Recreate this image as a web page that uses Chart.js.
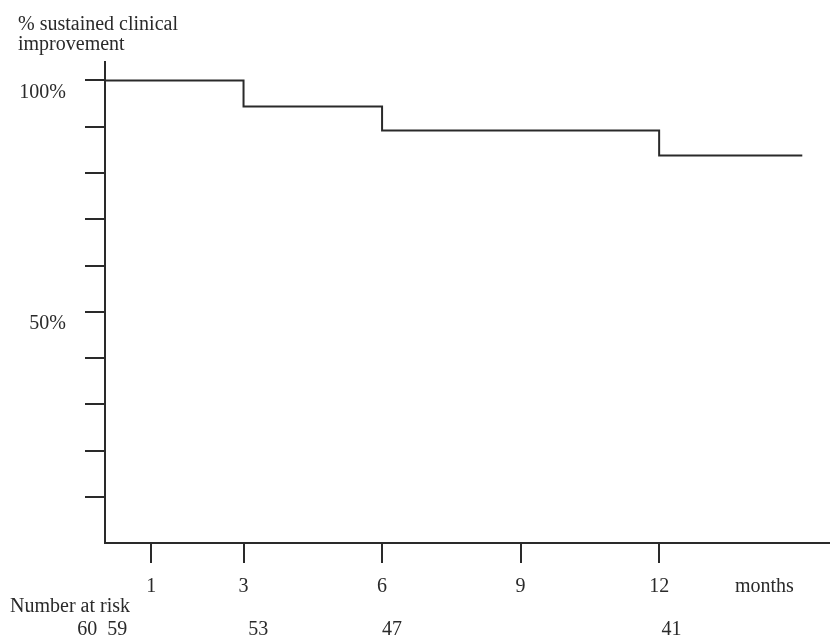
<!DOCTYPE html>
<html>
<head>
<meta charset="utf-8">
<script src="https://cdn.jsdelivr.net/npm/chart.js@4/dist/chart.umd.min.js"></script>
<style>
  html, body { margin: 0; padding: 0; background: #fff; }
  #wrap { width: 830px; height: 640px; }
</style>
</head>
<body>
<div id="wrap"><canvas id="myChart"></canvas></div>
<script>
// curve: months vs % sustained clinical improvement (step function)
const months = [0, 3, 6, 12, 15.1];
const improvement = [100, 94.4, 89.2, 83.8, 83.8];

// axis ticks and labels
const xTicks = [1, 3, 6, 9, 12];
const xTickLabels = ['1', '3', '6', '9', '12'];
const yTicks = [10, 20, 30, 40, 50, 60, 70, 80, 90, 100];
const yLabelValues = [100, 50];
const yLabels = ['100%', '50%'];

// number at risk row
const riskCounts = ['60', '59', '53', '47', '41'];
const riskAt = [-0.6, 0.05, 3.1, 6, 12.05];

const serif = '"Liberation Serif", "DejaVu Serif", serif';
const ink = '#2a2a2a';

const textPlugin = {
  id: 'texts',
  afterDraw(chart) {
    const c = chart.ctx;
    const x = chart.scales.x;
    const y = chart.scales.y;
    c.save();
    c.fillStyle = ink;
    c.font = '20px ' + serif;
    c.textBaseline = 'middle';

    // axis title
    c.textAlign = 'left';
    c.fillText('% sustained clinical', 18, 25);
    c.fillText('improvement', 18, 45);

    // y labels sit a little below their tick
    c.textAlign = 'right';
    yLabelValues.forEach((v, i) => {
      c.fillText(yLabels[i], 66, y.getPixelForValue(v) + 12);
    });

    // x labels
    c.textAlign = 'center';
    xTicks.forEach((v, i) => {
      c.fillText(xTickLabels[i], x.getPixelForValue(v), 587);
    });
    c.textAlign = 'left';
    c.fillText('months', 735, 587);

    // number at risk
    c.fillText('Number at risk', 10, 607);
    riskCounts.forEach((n, i) => {
      c.fillText(n, x.getPixelForValue(riskAt[i]), 630);
    });
    c.restore();
  }
};

const ctx = document.getElementById('myChart');

new Chart(ctx, {
  type: 'line',
  data: {
    datasets: [{
      data: months.map((m, i) => ({ x: m, y: improvement[i] })),
      stepped: 'before',
      borderColor: ink,
      borderWidth: 2,
      pointRadius: 0,
      fill: false
    }]
  },
  options: {
    responsive: true,
    maintainAspectRatio: false,
    animation: false,
    layout: { padding: { left: 85, top: 62, right: 0, bottom: 77 } },
    plugins: { legend: { display: false }, tooltip: { enabled: false } },
    scales: {
      x: {
        type: 'linear',
        min: 0,
        max: 15.7,
        afterBuildTicks: s => { s.ticks = xTicks.map(v => ({ value: v })); },
        ticks: { display: false },
        grid: { drawOnChartArea: false, drawTicks: true, tickLength: 20, color: ink, lineWidth: 2 },
        border: { display: true, color: ink, width: 2 }
      },
      y: {
        min: 0,
        max: 104,
        afterBuildTicks: s => { s.ticks = yTicks.map(v => ({ value: v })); },
        ticks: { display: false },
        grid: { drawOnChartArea: false, drawTicks: true, tickLength: 20, color: ink, lineWidth: 2 },
        border: { display: true, color: ink, width: 2 }
      }
    }
  },
  plugins: [textPlugin]
});
</script>
</body>
</html>
